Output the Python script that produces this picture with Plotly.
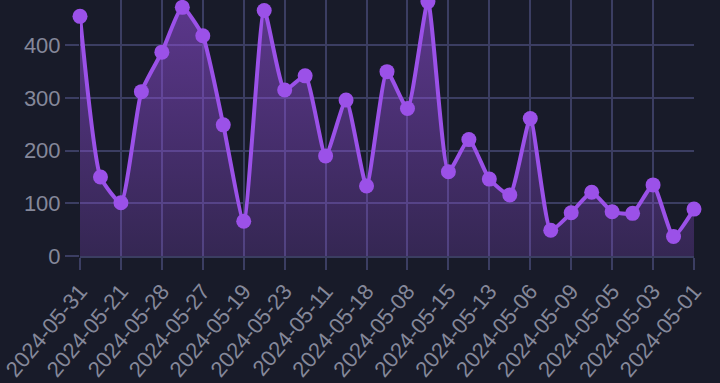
import plotly.graph_objects as go

dates = ["2024-05-31", "2024-05-30", "2024-05-21", "2024-05-25", "2024-05-28", "2024-05-29",
         "2024-05-27", "2024-05-24", "2024-05-19", "2024-05-22", "2024-05-23", "2024-05-26",
         "2024-05-11", "2024-05-17", "2024-05-18", "2024-05-20", "2024-05-08", "2024-05-12",
         "2024-05-15", "2024-05-16", "2024-05-13", "2024-05-14", "2024-05-06", "2024-05-10",
         "2024-05-09", "2024-05-07", "2024-05-05", "2024-05-04", "2024-05-03", "2024-05-02",
         "2024-05-01"]
values = [455, 150, 101, 312, 387, 472, 418, 249, 66, 466, 315, 342, 190, 296, 133, 350,
          280, 483, 160, 221, 146, 116, 261, 49, 82, 121, 84, 81, 135, 37, 89]
y_ticks = [0, 100, 200, 300, 400, 500]

idx = list(range(len(dates)))
tick_idx = idx[::2]
tick_text = [dates[i] for i in tick_idx]

LINE = "#9b51e8"
GRID = "#3b3e62"
BG = "#181b29"
TXT = "#85889a"

fig = go.Figure()
fig.add_trace(go.Scatter(
    x=idx, y=values, mode="lines+markers",
    line=dict(color=LINE, width=4, shape="spline", smoothing=0.5),
    marker=dict(color=LINE, size=15),
    fill="tozeroy",
    fillgradient=dict(type="vertical",
                      colorscale=[[0, "rgba(155,81,232,0.22)"], [1, "rgba(155,81,232,0.52)"]]),
    cliponaxis=False,
    hoverinfo="skip",
))

fig.update_layout(
    width=720, height=383,
    margin=dict(l=80, r=26, t=0, b=127),
    paper_bgcolor=BG, plot_bgcolor=BG,
    showlegend=False,
    font=dict(family="Liberation Sans, Arial, sans-serif", size=22, color=TXT),
)
fig.update_xaxes(
    range=[0, 30], tickmode="array", tickvals=tick_idx, ticktext=tick_text,
    tickangle=-50, showgrid=True, gridcolor=GRID, gridwidth=1.5,
    ticks="outside", ticklen=12, tickcolor=GRID, tickwidth=1.5,
    showline=True, linecolor=GRID, linewidth=1.5,
    zeroline=False, tickfont=dict(size=22, color=TXT),
)
fig.update_yaxes(
    range=[0, 486], tickmode="array", tickvals=y_ticks,
    showgrid=True, gridcolor=GRID, gridwidth=1.5,
    ticks="outside", ticklen=14, tickcolor=GRID, tickwidth=1.5,
    zeroline=False, showline=False, tickfont=dict(size=22, color=TXT),
)

fig.write_html(
    "out.html",
    config={"displayModeBar": False},
    post_script="document.body.style.margin='0';document.body.style.background='#181b29';",
)
